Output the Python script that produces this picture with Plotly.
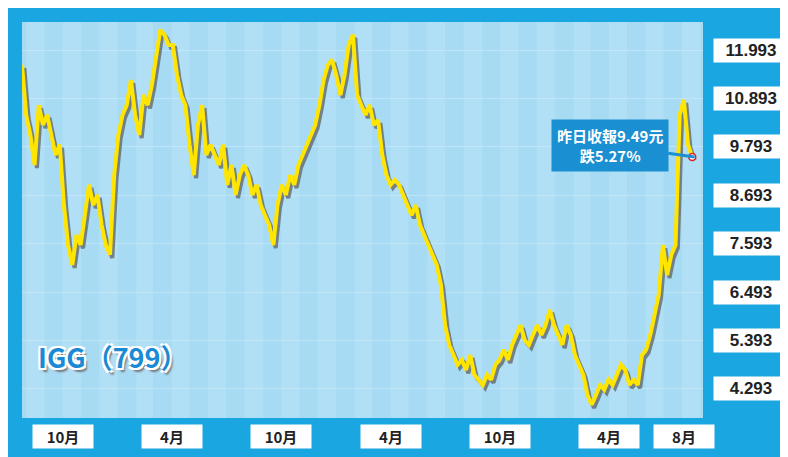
import pandas as pd
import plotly.graph_objects as go

# weekly closes (HKD)
prices = [
    11.13, 11.58, 11.24, 11.58, 10.45, 9.99, 9.31, 10.67, 10.22, 10.45, 9.99, 9.54,
    9.77, 8.40, 7.49, 7.04, 7.72, 7.49, 8.17, 8.86, 8.40, 8.63, 7.95, 7.49,
    7.27, 9.08, 9.99, 10.45, 10.67, 11.24, 10.45, 9.99, 10.90, 10.67, 11.13, 11.81,
    12.38, 12.27, 12.04, 12.04, 11.36, 10.90, 10.67, 9.77, 9.08, 10.22, 10.67, 9.54,
    9.77, 9.54, 9.31, 9.77, 8.86, 9.31, 8.63, 9.08, 9.31, 9.08, 8.63, 8.86,
    8.40, 8.17, 7.95, 7.49, 8.40, 8.86, 8.63, 9.08, 8.86, 9.31, 9.54, 9.77,
    9.99, 10.22, 10.67, 11.24, 11.58, 11.70, 11.36, 10.90, 11.36, 12.04, 12.27, 10.90,
    10.67, 10.45, 10.67, 10.22, 10.33, 9.54, 9.08, 8.86, 8.97, 8.86, 8.63, 8.40,
    8.17, 8.40, 7.95, 7.72, 7.49, 7.27, 7.04, 6.58, 5.67, 5.22, 4.99, 4.77,
    4.88, 4.65, 4.99, 4.54, 4.43, 4.31, 4.54, 4.43, 4.77, 4.88, 5.11, 4.88,
    5.22, 5.45, 5.67, 5.33, 5.22, 5.45, 5.67, 5.45, 5.67, 6.02, 5.67, 5.45,
    5.22, 5.67, 5.45, 4.99, 4.77, 4.54, 4.08, 3.86, 4.08, 4.31, 4.20, 4.43,
    4.31, 4.54, 4.77, 4.65, 4.31, 4.43, 4.31, 4.99, 5.11, 5.45, 5.90, 6.36,
    7.49, 6.81, 7.27, 7.49, 10.45, 10.79, 9.77, 9.49,
]
dates = pd.date_range(end="2025-08-22", periods=len(prices), freq="7D")

tick_dates = ["2022-10-01", "2023-04-01", "2023-10-01", "2024-04-01",
              "2024-10-01", "2025-04-01", "2025-08-05"]
tick_text = ["10月", "4月", "10月", "4月", "10月", "4月", "8月"]
y_ticks = [11.993, 10.893, 9.793, 8.693, 7.593, 6.493, 5.393, 4.293]

x0, x1 = pd.Timestamp("2022-07-25"), pd.Timestamp("2025-09-05")
y0, y1 = 3.63, 12.63
dx = pd.Timedelta(days=4)
dy = 0.07

fig = go.Figure()
# drop shadow on base axes, yellow line on a shifted overlay axis drawn above it
fig.add_trace(go.Scatter(x=dates, y=prices, mode="lines",
                         line=dict(color="rgba(90,90,90,0.7)", width=4), hoverinfo="skip"))
fig.add_trace(go.Scatter(x=dates, y=prices, mode="lines", xaxis="x2", yaxis="y2",
                         line=dict(color="#ffe500", width=4)))
fig.add_trace(go.Scatter(x=[dates[-1]], y=[prices[-1]], mode="markers", xaxis="x2", yaxis="y2",
                         marker=dict(color="white", size=7, line=dict(color="#e0202a", width=1.5))))

# soft vertical bands in the background
shapes = []
months = pd.date_range("2022-08-01", "2025-09-01", freq="MS")
for i, m in enumerate(months[:-1]):
    if i % 2 == 0:
        shapes.append(dict(type="rect", xref="x", yref="paper", x0=m, x1=months[i + 1],
                           y0=0, y1=1, fillcolor="rgba(255,255,255,0.12)",
                           line_width=0, layer="below"))

ann = []
for v in y_ticks:
    ann.append(dict(x=1.0, xref="paper", xanchor="left", xshift=10, y=v, yref="y",
                    text=f"<b>{v:.3f}</b>", showarrow=False, bgcolor="white",
                    borderpad=2, width=70, font=dict(size=17, color="#222", family="Liberation Sans")))
for d, t in zip(tick_dates, tick_text):
    ann.append(dict(x=d, xref="x", y=-0.015, yref="paper", yanchor="top",
                    text=f"<b>{t}</b>", showarrow=False, bgcolor="white", width=58,
                    borderpad=1, font=dict(size=15, color="#222", family="Noto Sans CJK TC")))
ann.append(dict(x=dates[-1], y=prices[-1] + dy, xref="x", yref="y", ax=-85, ay=-12,
                text="<b>昨日收報9.49元<br>跌5.27%</b>", showarrow=True, arrowhead=0,
                arrowwidth=3, arrowcolor="#1a8fd2", bgcolor="#1a8fd2", borderpad=5,
                font=dict(size=15, color="white", family="Noto Sans CJK TC")))
ann.append(dict(x=0.02, xref="paper", y=0.1, yref="paper", xanchor="left",
                text="<b>IGG（799）</b>", showarrow=False,
                font=dict(size=27, color="#1a8ad4", family="Noto Sans CJK TC",
                          shadow="2px 2px 0 #fff, -2px -2px 0 #fff, 2px -2px 0 #fff, -2px 2px 0 #fff, 3px 4px 2px #777")))

fig.update_layout(
    width=788, height=457, margin=dict(l=14, r=93, t=14, b=47),
    paper_bgcolor="#1aa6e0", plot_bgcolor="#a7dbf4", showlegend=False,
    shapes=shapes, annotations=ann,
    xaxis=dict(range=[x0, x1], showticklabels=False, showgrid=False, zeroline=False),
    yaxis=dict(range=[y0, y1], showticklabels=False, showgrid=True,
               gridcolor="rgba(255,255,255,0.25)", tickvals=y_ticks, zeroline=False),
    xaxis2=dict(range=[x0 + dx, x1 + dx], overlaying="x", visible=False),
    yaxis2=dict(range=[y0 - dy, y1 - dy], overlaying="y", visible=False),
)

fig.write_html("out.html")
